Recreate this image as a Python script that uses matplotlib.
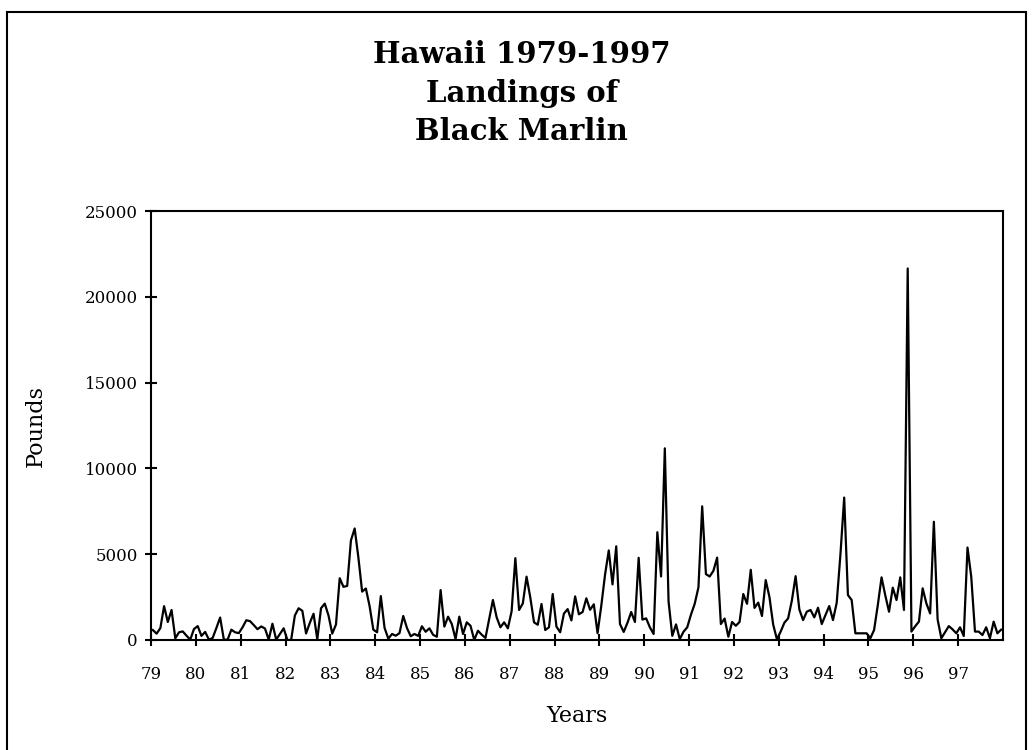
import matplotlib
matplotlib.use("Agg")
import matplotlib.pyplot as plt
import numpy as np
from matplotlib.patches import Rectangle

# monthly landings (pounds), one list per year, Jan..Dec
y1979 = [580, 370, 690, 1970, 1050, 1750, 100, 450, 500, 250, 20, 640]
y1980 = [810, 240, 470, 20, 120, 700, 1310, 20, 20, 600, 450, 400]
y1981 = [740, 1150, 1100, 870, 630, 790, 670, 20, 950, 20, 350, 680]
y1982 = [0, 0, 1430, 1850, 1700, 380, 1000, 1530, 40, 1850, 2120, 1430]
y1983 = [370, 900, 3600, 3100, 3150, 5800, 6500, 4800, 2820, 3000, 1970, 600]
y1984 = [450, 2560, 710, 80, 350, 250, 400, 1400, 700, 220, 350, 240]
y1985 = [800, 480, 680, 300, 190, 2910, 780, 1360, 930, 60, 1360, 350]
y1986 = [1030, 830, 0, 540, 310, 120, 1220, 2330, 1320, 740, 1030, 680]
y1987 = [1670, 4770, 1750, 2130, 3690, 2480, 1030, 890, 2100, 580, 740, 2680]
y1988 = [780, 450, 1540, 1800, 1140, 2540, 1500, 1630, 2430, 1760, 2080, 400]
y1989 = [2000, 3800, 5220, 3240, 5460, 930, 470, 1000, 1630, 1050, 4790, 1190]
y1990 = [1260, 740, 350, 6280, 3700, 11170, 2250, 240, 910, 50, 480, 740]
y1991 = [1480, 2110, 3070, 7790, 3840, 3700, 4030, 4800, 930, 1250, 190, 1050]
y1992 = [830, 1050, 2680, 2110, 4090, 1870, 2180, 1400, 3490, 2500, 900, 40]
y1993 = [490, 1010, 1260, 2300, 3720, 1780, 1160, 1650, 1750, 1320, 1880, 930]
y1994 = [1460, 1980, 1160, 2170, 5000, 8300, 2620, 2330, 390, 390, 390, 390]
y1995 = [100, 580, 2040, 3650, 2600, 1650, 3050, 2330, 3650, 1750, 21650, 490]
y1996 = [800, 1070, 3010, 2130, 1550, 6890, 1200, 100, 450, 810, 620, 390]
y1997 = [740, 230, 5390, 3690, 490, 490, 290, 740, 100, 1070, 390, 600]

years = list(range(79, 98))
pounds = np.array(y1979 + y1980 + y1981 + y1982 + y1983 + y1984 + y1985 + y1986
                  + y1987 + y1988 + y1989 + y1990 + y1991 + y1992 + y1993
                  + y1994 + y1995 + y1996 + y1997)
months = 79 + (np.arange(len(pounds)) + 0.5) / 12.0

plt.rcParams['font.family'] = ['DejaVu Serif']

fig = plt.figure(figsize=(10.33, 7.5), dpi=100)
ax = fig.add_axes([151 / 1033, 1 - 640 / 750, 852 / 1033, 429 / 750])

ax.plot(months, pounds, color='black', linewidth=1.6)

ax.set_xlim(79, 98)
ax.set_ylim(0, 25000)
ax.set_xticks(years)
ax.set_xticklabels([str(y) for y in years])
ax.set_yticks(range(0, 25001, 5000))

for s in ax.spines.values():
    s.set_linewidth(1.5)
ax.tick_params(axis='x', direction='inout', length=9, width=1.5, pad=14, labelsize=12)
ax.tick_params(axis='y', direction='inout', length=9, width=1.5, pad=5, labelsize=12)

ax.set_xlabel('Years', fontsize=16, labelpad=16)
ax.set_ylabel('Pounds', fontsize=16, labelpad=27)

fig.text(0.505, 0.876, 'Hawaii 1979-1997\nLandings of\nBlack Marlin',
         ha='center', va='center', fontsize=21, fontweight='bold', linespacing=1.4)

# chart border
fig.patches.append(Rectangle((7 / 1033, -0.01), 1019 / 1033, 1 - 12 / 750 + 0.01,
                             transform=fig.transFigure, fill=False,
                             edgecolor='black', linewidth=1.5))

fig.savefig('out.png', dpi=100)
